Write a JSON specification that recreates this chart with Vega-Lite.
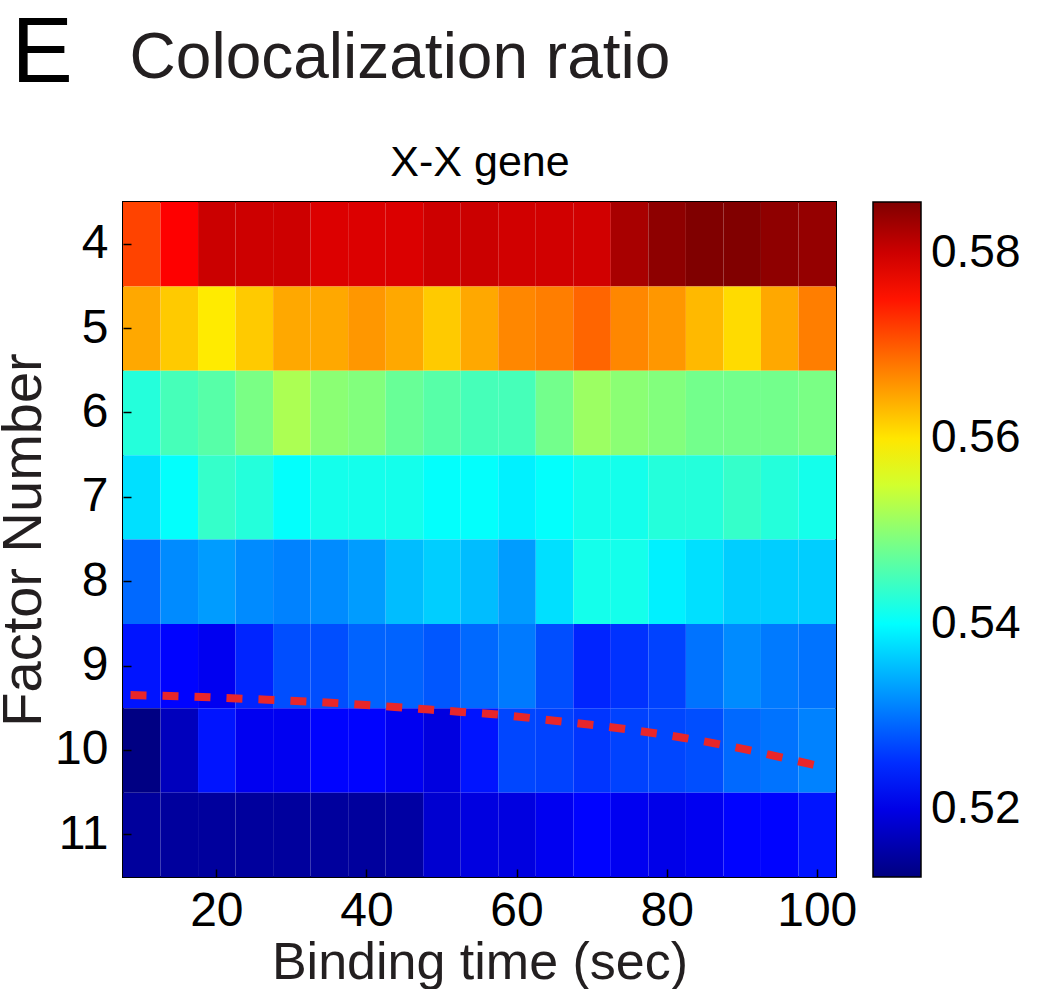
{
  "$schema": "https://vega.github.io/schema/vega-lite/v6.json",
  "background": "white",
  "padding": {"left": -6, "top": 8, "right": 0, "bottom": 0},
  "config": {
    "font": "Liberation Sans",
    "view": {"stroke": "black", "strokeWidth": 2},
    "axis": {"grid": false, "domain": false, "tickColor": "black", "tickWidth": 1.5, "labelColor": "black", "titleColor": "#231f20", "titleFontWeight": "normal"}
  },
  "title": {"text": "E", "anchor": "start", "frame": "bounds", "fontSize": 92, "fontWeight": "normal", "color": "black", "dx": 17, "offset": -75},
  "datasets": {
    "cells": [
      {"time":10,"factor":4,"ratio":0.5716},{"time":15,"factor":4,"ratio":0.5765},{"time":20,"factor":4,"ratio":0.5801},{"time":25,"factor":4,"ratio":0.5800},{"time":30,"factor":4,"ratio":0.5800},{"time":35,"factor":4,"ratio":0.5789},{"time":40,"factor":4,"ratio":0.5789},{"time":45,"factor":4,"ratio":0.5790},{"time":50,"factor":4,"ratio":0.5800},{"time":55,"factor":4,"ratio":0.5801},{"time":60,"factor":4,"ratio":0.5797},{"time":65,"factor":4,"ratio":0.5797},{"time":70,"factor":4,"ratio":0.5797},{"time":75,"factor":4,"ratio":0.5826},{"time":80,"factor":4,"ratio":0.5845},{"time":85,"factor":4,"ratio":0.5855},{"time":90,"factor":4,"ratio":0.5854},{"time":95,"factor":4,"ratio":0.5844},{"time":100,"factor":4,"ratio":0.5840},
      {"time":10,"factor":5,"ratio":0.5644},{"time":15,"factor":5,"ratio":0.5620},{"time":20,"factor":5,"ratio":0.5596},{"time":25,"factor":5,"ratio":0.5620},{"time":30,"factor":5,"ratio":0.5644},{"time":35,"factor":5,"ratio":0.5644},{"time":40,"factor":5,"ratio":0.5656},{"time":45,"factor":5,"ratio":0.5644},{"time":50,"factor":5,"ratio":0.5620},{"time":55,"factor":5,"ratio":0.5644},{"time":60,"factor":5,"ratio":0.5668},{"time":65,"factor":5,"ratio":0.5674},{"time":70,"factor":5,"ratio":0.5692},{"time":75,"factor":5,"ratio":0.5668},{"time":80,"factor":5,"ratio":0.5656},{"time":85,"factor":5,"ratio":0.5632},{"time":90,"factor":5,"ratio":0.5608},{"time":95,"factor":5,"ratio":0.5644},{"time":100,"factor":5,"ratio":0.5674},
      {"time":10,"factor":6,"ratio":0.5426},{"time":15,"factor":6,"ratio":0.5450},{"time":20,"factor":6,"ratio":0.5462},{"time":25,"factor":6,"ratio":0.5487},{"time":30,"factor":6,"ratio":0.5523},{"time":35,"factor":6,"ratio":0.5499},{"time":40,"factor":6,"ratio":0.5493},{"time":45,"factor":6,"ratio":0.5474},{"time":50,"factor":6,"ratio":0.5462},{"time":55,"factor":6,"ratio":0.5450},{"time":60,"factor":6,"ratio":0.5450},{"time":65,"factor":6,"ratio":0.5482},{"time":70,"factor":6,"ratio":0.5511},{"time":75,"factor":6,"ratio":0.5499},{"time":80,"factor":6,"ratio":0.5493},{"time":85,"factor":6,"ratio":0.5482},{"time":90,"factor":6,"ratio":0.5482},{"time":95,"factor":6,"ratio":0.5482},{"time":100,"factor":6,"ratio":0.5487},
      {"time":10,"factor":7,"ratio":0.5378},{"time":15,"factor":7,"ratio":0.5402},{"time":20,"factor":7,"ratio":0.5438},{"time":25,"factor":7,"ratio":0.5426},{"time":30,"factor":7,"ratio":0.5402},{"time":35,"factor":7,"ratio":0.5414},{"time":40,"factor":7,"ratio":0.5414},{"time":45,"factor":7,"ratio":0.5414},{"time":50,"factor":7,"ratio":0.5402},{"time":55,"factor":7,"ratio":0.5402},{"time":60,"factor":7,"ratio":0.5390},{"time":65,"factor":7,"ratio":0.5402},{"time":70,"factor":7,"ratio":0.5414},{"time":75,"factor":7,"ratio":0.5414},{"time":80,"factor":7,"ratio":0.5426},{"time":85,"factor":7,"ratio":0.5426},{"time":90,"factor":7,"ratio":0.5438},{"time":95,"factor":7,"ratio":0.5426},{"time":100,"factor":7,"ratio":0.5414},
      {"time":10,"factor":8,"ratio":0.5293},{"time":15,"factor":8,"ratio":0.5317},{"time":20,"factor":8,"ratio":0.5329},{"time":25,"factor":8,"ratio":0.5317},{"time":30,"factor":8,"ratio":0.5311},{"time":35,"factor":8,"ratio":0.5317},{"time":40,"factor":8,"ratio":0.5329},{"time":45,"factor":8,"ratio":0.5353},{"time":50,"factor":8,"ratio":0.5365},{"time":55,"factor":8,"ratio":0.5353},{"time":60,"factor":8,"ratio":0.5329},{"time":65,"factor":8,"ratio":0.5378},{"time":70,"factor":8,"ratio":0.5414},{"time":75,"factor":8,"ratio":0.5414},{"time":80,"factor":8,"ratio":0.5390},{"time":85,"factor":8,"ratio":0.5378},{"time":90,"factor":8,"ratio":0.5365},{"time":95,"factor":8,"ratio":0.5365},{"time":100,"factor":8,"ratio":0.5365},
      {"time":10,"factor":9,"ratio":0.5232},{"time":15,"factor":9,"ratio":0.5220},{"time":20,"factor":9,"ratio":0.5208},{"time":25,"factor":9,"ratio":0.5244},{"time":30,"factor":9,"ratio":0.5274},{"time":35,"factor":9,"ratio":0.5274},{"time":40,"factor":9,"ratio":0.5289},{"time":45,"factor":9,"ratio":0.5289},{"time":50,"factor":9,"ratio":0.5280},{"time":55,"factor":9,"ratio":0.5293},{"time":60,"factor":9,"ratio":0.5305},{"time":65,"factor":9,"ratio":0.5274},{"time":70,"factor":9,"ratio":0.5244},{"time":75,"factor":9,"ratio":0.5254},{"time":80,"factor":9,"ratio":0.5265},{"time":85,"factor":9,"ratio":0.5300},{"time":90,"factor":9,"ratio":0.5317},{"time":95,"factor":9,"ratio":0.5305},{"time":100,"factor":9,"ratio":0.5300},
      {"time":10,"factor":10,"ratio":0.5129},{"time":15,"factor":10,"ratio":0.5171},{"time":20,"factor":10,"ratio":0.5232},{"time":25,"factor":10,"ratio":0.5208},{"time":30,"factor":10,"ratio":0.5208},{"time":35,"factor":10,"ratio":0.5220},{"time":40,"factor":10,"ratio":0.5220},{"time":45,"factor":10,"ratio":0.5208},{"time":50,"factor":10,"ratio":0.5196},{"time":55,"factor":10,"ratio":0.5232},{"time":60,"factor":10,"ratio":0.5268},{"time":65,"factor":10,"ratio":0.5265},{"time":70,"factor":10,"ratio":0.5256},{"time":75,"factor":10,"ratio":0.5265},{"time":80,"factor":10,"ratio":0.5268},{"time":85,"factor":10,"ratio":0.5274},{"time":90,"factor":10,"ratio":0.5293},{"time":95,"factor":10,"ratio":0.5300},{"time":100,"factor":10,"ratio":0.5311},
      {"time":10,"factor":11,"ratio":0.5147},{"time":15,"factor":11,"ratio":0.5148},{"time":20,"factor":11,"ratio":0.5148},{"time":25,"factor":11,"ratio":0.5148},{"time":30,"factor":11,"ratio":0.5148},{"time":35,"factor":11,"ratio":0.5148},{"time":40,"factor":11,"ratio":0.5148},{"time":45,"factor":11,"ratio":0.5152},{"time":50,"factor":11,"ratio":0.5184},{"time":55,"factor":11,"ratio":0.5196},{"time":60,"factor":11,"ratio":0.5196},{"time":65,"factor":11,"ratio":0.5208},{"time":70,"factor":11,"ratio":0.5220},{"time":75,"factor":11,"ratio":0.5208},{"time":80,"factor":11,"ratio":0.5202},{"time":85,"factor":11,"ratio":0.5208},{"time":90,"factor":11,"ratio":0.5220},{"time":95,"factor":11,"ratio":0.5220},{"time":100,"factor":11,"ratio":0.5232}
    ],
    "curve": [
      {"time":8.5,"factor":9.343},{"time":18.1,"factor":9.367},{"time":26.7,"factor":9.399},{"time":35.2,"factor":9.434},{"time":43.7,"factor":9.485},{"time":52.2,"factor":9.541},{"time":56.5,"factor":9.568},{"time":65.0,"factor":9.647},{"time":73.6,"factor":9.737},{"time":82.1,"factor":9.849},{"time":90.6,"factor":9.991},{"time":99.0,"factor":10.16},{"time":100.0,"factor":10.18}
    ]
  },
  "vconcat": [
    {
      "width": 713,
      "height": 675,
      "title": {"text": "Colocalization ratio", "anchor": "start", "frame": "bounds", "fontSize": 64, "fontWeight": "normal", "color": "#231f20", "dx": 134, "offset": 50},
      "layer": [
        {
          "data": {"name": "cells"},
          "mark": {"type": "rect"},
          "encoding": {
            "x": {"field": "time", "type": "ordinal",
              "scale": {"domain": [10,15,20,25,30,35,40,45,50,55,60,65,70,75,80,85,90,95,100], "paddingInner": 0, "paddingOuter": 0},
              "axis": {"values": [20,40,60,80,100], "labelAngle": 0, "labelFontSize": 48, "labelPadding": 18, "tickSize": -8, "title": "Binding time (sec)", "titleFontSize": 52, "titlePadding": 2}},
            "y": {"field": "factor", "type": "ordinal",
              "scale": {"domain": [4,5,6,7,8,9,10,11], "paddingInner": 0, "paddingOuter": 0},
              "axis": {"labelFontSize": 48, "labelPadding": 23, "tickSize": -8, "title": "Factor Number", "titleFontSize": 56, "titlePadding": 2}},
            "color": {"field": "ratio", "type": "quantitative",
              "scale": {"type": "linear", "domain": [0.5127, 0.5218, 0.54, 0.5582, 0.5764, 0.5855], "range": ["#000080", "#0000ff", "#00ffff", "#ffff00", "#ff0000", "#800000"], "interpolate": "rgb", "nice": false, "zero": false},
              "legend": {"type": "gradient", "orient": "right", "offset": 15, "title": null, "gradientLength": 675, "gradientThickness": 48, "gradientStrokeColor": "black", "gradientStrokeWidth": 1.5, "labelFontSize": 46, "labelOffset": 10, "labelColor": "black", "values": [0.52, 0.54, 0.56, 0.58], "format": ".2f", "padding": 0, "labelOverlap": false, "direction": "vertical"}}
          }
        },
        {
          "data": {"name": "curve"},
          "mark": {"type": "line", "color": "#e8262a", "strokeWidth": 8, "strokeDash": [16, 16], "strokeCap": "butt", "interpolate": "monotone"},
          "encoding": {
            "x": {"field": "time", "type": "quantitative",
              "scale": {"domain": [7.5, 102.5], "nice": false, "zero": false},
              "axis": {"orient": "top", "values": [20,40,60,80,100], "labels": false, "tickSize": -8, "title": "X-X gene", "titleFontSize": 43, "titlePadding": 17, "titleColor": "black"}},
            "y": {"field": "factor", "type": "quantitative",
              "scale": {"domain": [3.5, 11.5], "reverse": true, "nice": false, "zero": false},
              "axis": {"orient": "right", "values": [4,5,6,7,8,9,10,11], "labels": false, "tickSize": -8, "title": null}}
          }
        }
      ],
      "resolve": {"scale": {"x": "independent", "y": "independent"}, "axis": {"x": "independent", "y": "independent"}}
    }
  ]
}
